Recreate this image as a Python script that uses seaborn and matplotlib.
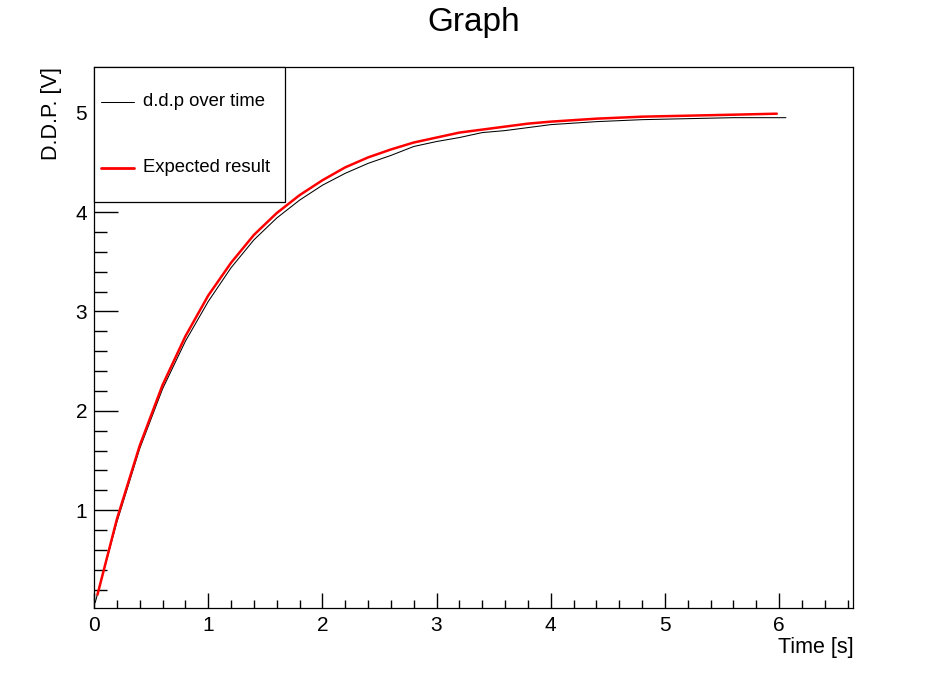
import numpy as np
import pandas as pd
import seaborn as sns
import matplotlib
matplotlib.use('Agg')
import matplotlib.pyplot as plt
from matplotlib.ticker import MultipleLocator
from matplotlib.patches import Rectangle
from matplotlib.lines import Line2D

t_meas = [0.01, 0.2, 0.4, 0.6, 0.8, 1.0, 1.2, 1.4, 1.6, 1.8, 2.0, 2.2, 2.4, 2.6, 2.8,
          3.0, 3.2, 3.4, 3.6, 3.8, 4.0, 4.4, 4.8, 5.2, 5.6, 6.06]
v_meas = [0.07, 0.88, 1.62, 2.22, 2.70, 3.10, 3.44, 3.72, 3.94, 4.12, 4.27, 4.39, 4.49, 4.57, 4.66,
          4.71, 4.75, 4.80, 4.82, 4.85, 4.88, 4.91, 4.93, 4.94, 4.95, 4.95]

# expected curve
t_exp = [0.03, 0.2, 0.4, 0.6, 0.8, 1.0, 1.2, 1.4, 1.6, 1.8, 2.0, 2.2, 2.4, 2.6, 2.8,
         3.0, 3.2, 3.4, 3.6, 3.8, 4.0, 4.4, 4.8, 5.2, 5.6, 5.98]
v_exp = [0.15, 0.91, 1.65, 2.26, 2.75, 3.16, 3.49, 3.77, 3.99, 4.17, 4.32, 4.45, 4.55, 4.63, 4.70,
         4.75, 4.80, 4.83, 4.86, 4.89, 4.91, 4.94, 4.96, 4.97, 4.98, 4.99]

legend_labels = ['d.d.p over time', 'Expected result']

meas = pd.DataFrame({'t': t_meas, 'v': v_meas})
expd = pd.DataFrame({'t': t_exp, 'v': v_exp})

sns.set_theme(style='white')
plt.rcParams['font.family'] = ['Liberation Sans', 'DejaVu Sans']
plt.rcParams['text.color'] = 'black'
plt.rcParams['axes.labelcolor'] = 'black'
plt.rcParams['xtick.color'] = 'black'
plt.rcParams['ytick.color'] = 'black'

fig = plt.figure(figsize=(9.48, 6.76), dpi=100)
ax = fig.add_axes([0.0992, 0.1006, 0.8009, 0.8003])

sns.lineplot(data=meas, x='t', y='v', ax=ax, color='black', linewidth=0.75,
             sort=False, legend=False)
sns.lineplot(data=expd, x='t', y='v', ax=ax, color='red', linewidth=1.8,
             sort=False, legend=False)

ax.set_xlim(0, 6.65)
ax.set_ylim(0.016, 5.46)

ax.xaxis.set_major_locator(MultipleLocator(1))
ax.xaxis.set_minor_locator(MultipleLocator(0.2))
ax.yaxis.set_major_locator(MultipleLocator(1))
ax.yaxis.set_minor_locator(MultipleLocator(0.2))
ax.set_yticks([1, 2, 3, 4, 5])

ax.tick_params(axis='x', which='major', direction='in', length=11, width=1,
               bottom=True, top=False, labelsize=15, pad=6)
ax.tick_params(axis='x', which='minor', direction='in', length=5.8, width=1,
               bottom=True, top=False)
ax.tick_params(axis='y', which='major', direction='in', length=17, width=1,
               left=True, right=False, labelsize=15, pad=5)
ax.tick_params(axis='y', which='minor', direction='in', length=9.4, width=1,
               left=True, right=False)

for s in ax.spines.values():
    s.set_color('black')
    s.set_linewidth(0.9)

ax.set_xlabel('Time [s]', fontsize=15.5, loc='right', labelpad=1)
ax.set_ylabel('D.D.P. [V]', fontsize=15.5, loc='top', labelpad=10)

# ROOT style legend box in the upper left corner
ax.add_patch(Rectangle((0, 0.7505), 0.2516, 0.2495, transform=ax.transAxes,
                       facecolor='white', edgecolor='black', linewidth=0.9,
                       zorder=5, clip_on=False))
for yy, col, lw, lab in [(0.9353, 'black', 0.75, legend_labels[0]),
                         (0.8133, 'red', 2.0, legend_labels[1])]:
    ax.add_line(Line2D([0.0092, 0.0527], [yy, yy], transform=ax.transAxes,
                       color=col, linewidth=lw, zorder=6))
    ax.text(0.0642, yy, lab, transform=ax.transAxes, ha='left', va='center',
            fontsize=13.3, zorder=6)

fig.text(0.5, 0.967, 'Graph', ha='center', va='center', fontsize=24)

fig.savefig('out.png', dpi=100, facecolor='white')
